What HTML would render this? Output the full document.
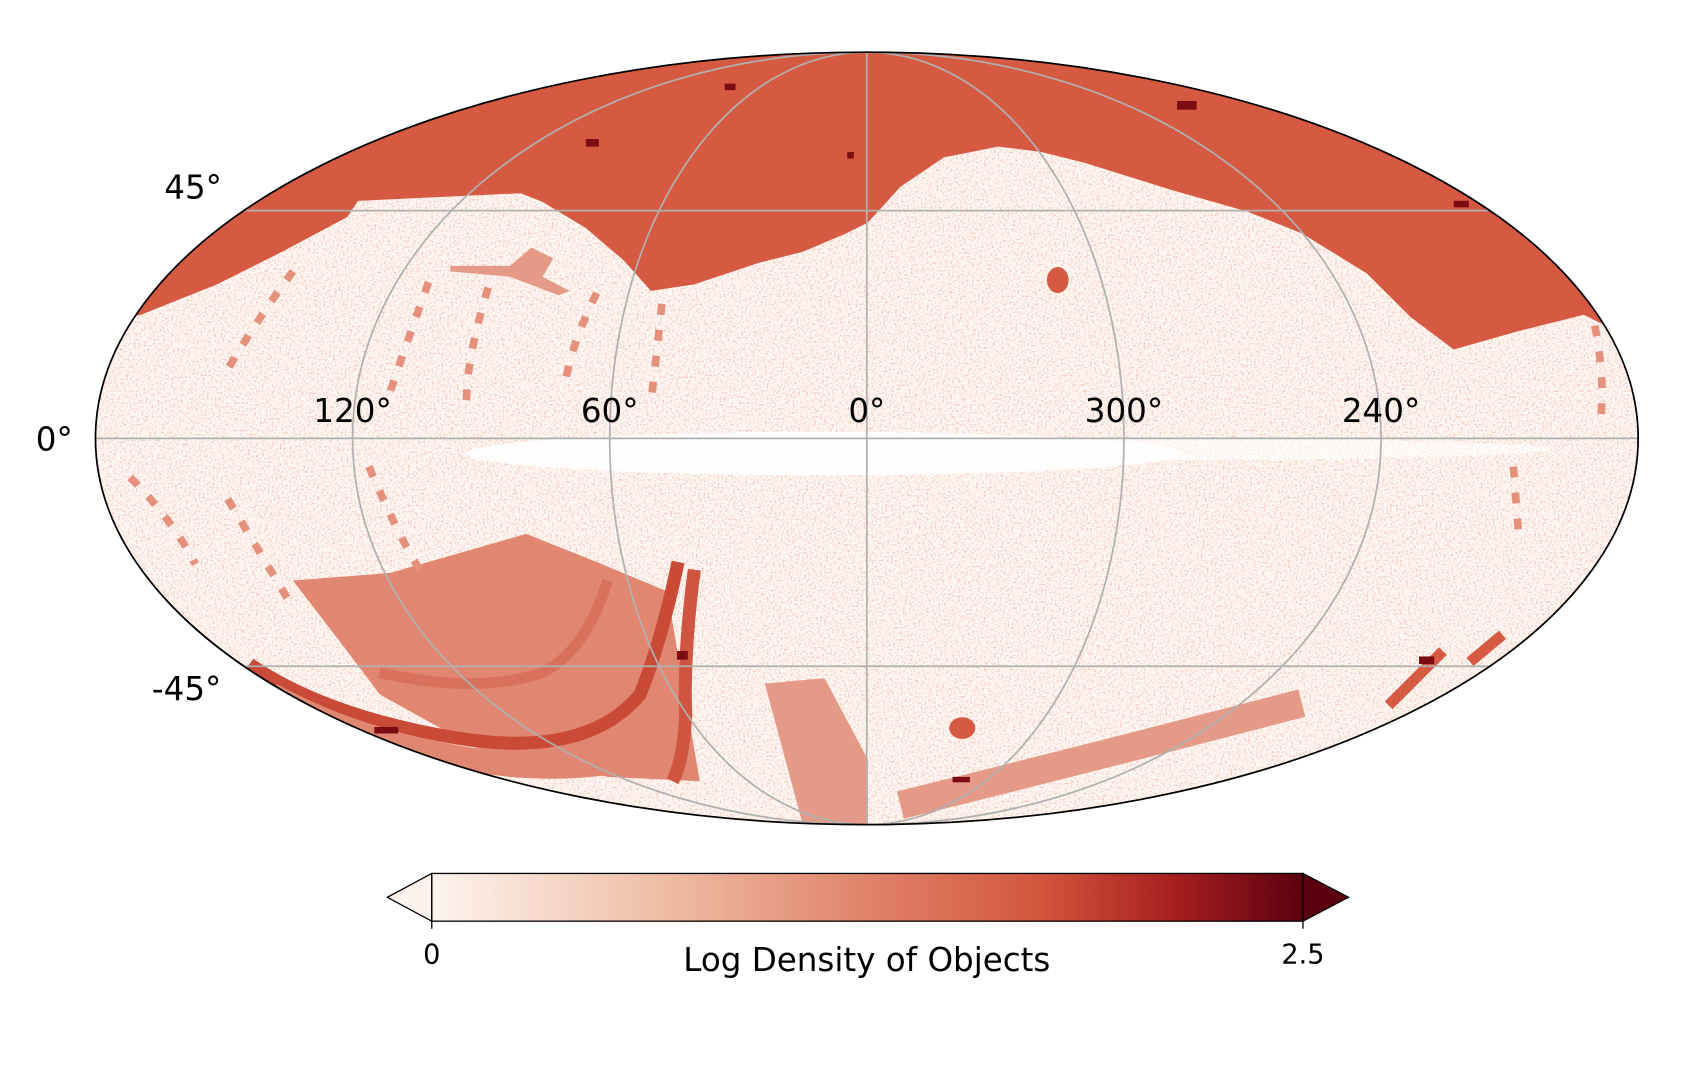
<!DOCTYPE html>
<html><head><meta charset="utf-8"><style>
html,body{margin:0;padding:0;background:#fff;}
svg{display:block;}
text{font-family:"DejaVu Sans","Liberation Sans",sans-serif;fill:#000;}
</style></head><body>
<svg width="1700" height="1071" viewBox="0 0 1567 987" xmlns="http://www.w3.org/2000/svg">
<defs>
<clipPath id="ell"><ellipse cx="799" cy="404" rx="711" ry="356"/></clipPath>
<filter id="nz" x="0" y="0" width="100%" height="100%">
<feTurbulence type="fractalNoise" baseFrequency="0.55" numOctaves="1" seed="4"/>
<feColorMatrix type="matrix" values="0 0 0 0 0.88  0 0 0 0 0.45  0 0 0 0 0.35  0 0 0 2.4 -1.15"/>
</filter>
<linearGradient id="cb" x1="0" x2="1" y1="0" y2="0">
<stop offset="0" stop-color="#fdf3ee"/>
<stop offset="0.25" stop-color="#f0c0a8"/>
<stop offset="0.5" stop-color="#e0836a"/>
<stop offset="0.7" stop-color="#d2553d"/>
<stop offset="0.85" stop-color="#a8201f"/>
<stop offset="1" stop-color="#5c0010"/>
</linearGradient>
</defs>
<g clip-path="url(#ell)">
<rect x="80" y="40" width="1440" height="730" fill="#fef6f2"/>
<rect x="80" y="40" width="1440" height="730" filter="url(#nz)"/>
<!-- galactic plane white band -->
<ellipse cx="760" cy="418" rx="330" ry="20" fill="#ffffff" opacity="0.9"/>
<ellipse cx="1050" cy="414" rx="380" ry="10" fill="#ffffff" opacity="0.6"/>
<!-- top red region -->
<path d="M80,40 L1520,40 L1520,300 L1480,300 L1460,290 L1400,305 L1340,322 L1300,292 L1260,252 L1200,215 L1150,195 L1080,175 L1000,150 L960,140 L920,135 L870,145 L830,172 L800,205 L780,215 L740,232 L700,242 L640,262 L600,268 L575,240 L540,210 L500,186 L480,178 L330,185 L320,200 L260,232 L200,262 L130,290 L80,300 Z" fill="#d65a42"/>
<!-- bottom-left patch -->
<path d="M270,535 L360,528 L485,492 L555,520 L615,545 L645,720 L560,716 L440,690 L350,640 L320,600 Z" fill="#e18670"/>
<path d="M230,612 Q300,660 420,680 Q540,700 590,640 Q610,590 625,518" fill="none" stroke="#c84a37" stroke-width="12"/>
<path d="M250,640 Q340,690 470,705 Q560,712 600,690" fill="none" stroke="#e18670" stroke-width="22"/>
<path d="M640,525 Q630,600 632,660 Q630,700 620,720" fill="none" stroke="#cf5540" stroke-width="12"/>
<path d="M560,535 Q540,600 500,620 Q440,640 350,620" fill="none" stroke="#d26650" stroke-width="10" opacity="0.6"/>
<!-- bottom middle patch -->
<path d="M705,630 L760,625 L800,700 L800,760 L740,760 Z" fill="#e49a86"/>
<!-- bottom right band -->
<path d="M830,742 Q1000,700 1200,648" fill="none" stroke="#e49a86" stroke-width="26"/>
<path d="M1280,650 L1330,600" stroke="#d65a42" stroke-width="10"/>
<path d="M1355,610 L1385,585" stroke="#d65a42" stroke-width="10"/>
<!-- upper-left feature -->
<path d="M415,245 L470,245 L490,228 L510,238 L500,255 L525,268 L515,272 L470,255 L415,250 Z" fill="#e49a86"/>
<!-- dotted tracks -->
<g stroke="#e4907a" stroke-width="7" stroke-dasharray="10 14" fill="none">
<path d="M395,260 Q370,330 360,360"/>
<path d="M450,265 Q430,330 430,370"/>
<path d="M550,270 Q525,320 520,360"/>
<path d="M610,280 Q605,330 600,370"/>
<path d="M270,250 Q240,290 210,340"/>
<path d="M340,430 Q370,500 390,530"/>
<path d="M1470,300 Q1480,350 1475,390"/>
<path d="M1395,430 L1400,495"/>
<path d="M120,440 Q160,480 180,520"/>
<path d="M210,460 Q240,510 270,560"/>
</g>
<!-- dark dots -->
<g fill="#7a0c12">
<rect x="540" y="128" width="12" height="7"/><rect x="1085" y="93" width="18" height="8"/>
<rect x="1340" y="185" width="14" height="6"/><rect x="1308" y="605" width="14" height="7"/>
<rect x="345" y="670" width="22" height="6"/><rect x="878" y="716" width="16" height="5"/>
<rect x="624" y="600" width="10" height="8"/><rect x="668" y="77" width="10" height="6"/>
<rect x="781" y="140" width="6" height="6"/>
</g>
<ellipse cx="887" cy="671" rx="12" ry="10" fill="#d65a42"/>
<ellipse cx="975" cy="258" rx="10" ry="12" fill="#d65a42"/>
</g>
<!-- graticule -->
<g fill="none" stroke="#b0b0b0" stroke-width="1.6">
<line x1="88" y1="404" x2="1510" y2="404"/>
<line x1="226" y1="194" x2="1372" y2="194"/>
<line x1="226" y1="614" x2="1372" y2="614"/>
<line x1="799" y1="48" x2="799" y2="760"/>
<ellipse cx="799" cy="404" rx="237" ry="356"/>
<ellipse cx="799" cy="404" rx="474" ry="356"/>
</g>
<ellipse cx="799" cy="404" rx="711" ry="356" fill="none" stroke="#000" stroke-width="1.6"/>
<!-- labels -->
<g font-size="30" text-anchor="middle">
<text x="178" y="183">45°</text>
<text x="50" y="415">0°</text>
<text x="172" y="645">-45°</text>
<text x="325" y="389">120°</text>
<text x="562" y="389">60°</text>
<text x="799" y="389">0°</text>
<text x="1036" y="389">300°</text>
<text x="1273" y="389">240°</text>
</g>
<!-- colorbar -->
<rect x="398" y="805" width="803" height="44" fill="url(#cb)"/>
<polygon points="398,805 357,827 398,849" fill="#fdf3ee" stroke="#000" stroke-width="1.2"/>
<polygon points="1201,805 1243,827 1201,849" fill="#5c0010" stroke="#000" stroke-width="1.2"/>
<rect x="398" y="805" width="803" height="44" fill="none" stroke="#000" stroke-width="1.2"/>
<line x1="398" y1="849" x2="398" y2="856" stroke="#000" stroke-width="1.2"/>
<line x1="1201" y1="849" x2="1201" y2="856" stroke="#000" stroke-width="1.2"/>
<text x="398" y="888" font-size="25" text-anchor="middle">0</text>
<text x="1201" y="888" font-size="25" text-anchor="middle">2.5</text>
<text x="799" y="895" font-size="30" text-anchor="middle">Log Density of Objects</text>
</svg>
</body></html>
